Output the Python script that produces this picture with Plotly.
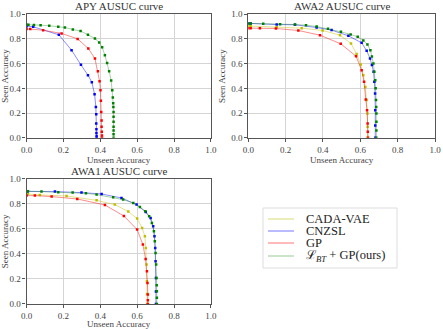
import plotly.graph_objects as go

# ---- data (unseen acc, seen acc) ----
apy_ours_x = [0.0, 0.01, 0.04, 0.076, 0.123, 0.172, 0.208, 0.251, 0.293, 0.333, 0.371, 0.394, 0.41,
              0.425, 0.437, 0.448, 0.459, 0.465, 0.468, 0.47, 0.471, 0.472, 0.472, 0.472, 0.472,
              0.472, 0.472, 0.472]
apy_ours_y = [0.915, 0.915, 0.913, 0.911, 0.906, 0.898, 0.892, 0.876, 0.863, 0.833, 0.803, 0.771,
              0.733, 0.668, 0.606, 0.539, 0.464, 0.385, 0.326, 0.28, 0.25, 0.21, 0.17, 0.13, 0.09,
              0.06, 0.03, 0.0]
apy_gp_x = [0.0, 0.02, 0.09, 0.19, 0.277, 0.335, 0.371, 0.387, 0.396, 0.401, 0.403, 0.405, 0.407,
            0.407, 0.408, 0.409, 0.409]
apy_gp_y = [0.879, 0.879, 0.87, 0.844, 0.80, 0.722, 0.641, 0.539, 0.458, 0.385, 0.30, 0.21, 0.14,
            0.09, 0.05, 0.02, 0.0]
apy_cnzsl_x = [0.0, 0.036, 0.175, 0.244, 0.295, 0.333, 0.354, 0.369, 0.376, 0.378, 0.378, 0.379,
               0.379, 0.38, 0.38]
apy_cnzsl_y = [0.903, 0.898, 0.833, 0.709, 0.59, 0.507, 0.45, 0.353, 0.25, 0.19, 0.116, 0.07,
               0.04, 0.015, 0.0]

awa2_ours_x = [0.0, 0.0125, 0.08, 0.17, 0.25, 0.309, 0.366, 0.427, 0.496, 0.548, 0.586, 0.616, 0.638,
               0.654, 0.662, 0.67, 0.675, 0.68, 0.682, 0.684, 0.685, 0.686, 0.686, 0.686, 0.686]
awa2_ours_y = [0.925, 0.925, 0.922, 0.919, 0.916, 0.911, 0.90, 0.881, 0.857, 0.836, 0.817, 0.787,
               0.755, 0.709, 0.658, 0.601, 0.534, 0.466, 0.40, 0.305, 0.25, 0.197, 0.13, 0.06, 0.0]
awa2_cnzsl_x = [0.0, 0.0125, 0.152, 0.25, 0.366, 0.446, 0.536, 0.607, 0.634, 0.652, 0.662, 0.671,
                0.675, 0.679, 0.68, 0.68, 0.68]
awa2_cnzsl_y = [0.925, 0.925, 0.916, 0.914, 0.892, 0.871, 0.825, 0.768, 0.704, 0.642, 0.588, 0.534,
                0.453, 0.358, 0.224, 0.1, 0.0]
awa2_cada_x = [0.0, 0.0125, 0.152, 0.286, 0.398, 0.491, 0.55, 0.58, 0.602, 0.616, 0.627, 0.634,
               0.638, 0.639, 0.639]
awa2_cada_y = [0.903, 0.903, 0.895, 0.887, 0.868, 0.83, 0.763, 0.677, 0.593, 0.507, 0.412, 0.305,
               0.197, 0.09, 0.0]
awa2_gp_x = [0.0, 0.0125, 0.062, 0.148, 0.268, 0.384, 0.495, 0.577, 0.607, 0.62, 0.629, 0.636,
             0.639, 0.64, 0.641]
awa2_gp_y = [0.887, 0.887, 0.887, 0.884, 0.868, 0.83, 0.76, 0.66, 0.547, 0.453, 0.31, 0.224,
             0.116, 0.05, 0.0]

awa1_ours_x = [0.0, 0.007, 0.081, 0.172, 0.25, 0.322, 0.38, 0.47, 0.524, 0.579, 0.615, 0.644, 0.665,
               0.68, 0.691, 0.696, 0.7, 0.703, 0.705, 0.706, 0.707, 0.707, 0.707]
awa1_ours_y = [0.901, 0.901, 0.899, 0.893, 0.891, 0.885, 0.875, 0.853, 0.835, 0.808, 0.776, 0.741,
               0.701, 0.648, 0.581, 0.501, 0.408, 0.315, 0.208, 0.15, 0.101, 0.05, 0.0]
awa1_cnzsl_x = [0.0, 0.007, 0.154, 0.298, 0.407, 0.515, 0.597, 0.647, 0.673, 0.687, 0.694, 0.698,
                0.7, 0.702, 0.702, 0.702]
awa1_cnzsl_y = [0.901, 0.901, 0.899, 0.891, 0.88, 0.848, 0.795, 0.736, 0.688, 0.621, 0.541, 0.448,
                0.341, 0.208, 0.1, 0.0]
awa1_cada_x = [0.0, 0.007, 0.072, 0.217, 0.38, 0.479, 0.552, 0.6, 0.627, 0.642, 0.647, 0.651,
               0.653, 0.654, 0.655]
awa1_cada_y = [0.88, 0.88, 0.872, 0.864, 0.829, 0.795, 0.739, 0.683, 0.608, 0.541, 0.448, 0.315,
               0.181, 0.08, 0.0]
awa1_gp_x = [0.0, 0.045, 0.136, 0.275, 0.425, 0.528, 0.6, 0.631, 0.646, 0.653, 0.656, 0.658,
             0.658, 0.658]
awa1_gp_y = [0.867, 0.867, 0.859, 0.84, 0.792, 0.704, 0.595, 0.475, 0.36, 0.261, 0.168, 0.075,
             0.03, 0.0]

METHODS = ["CADA-VAE", "CNZSL", "GP", "ℒ<sub><i>BT</i></sub> + GP(ours)"]
LINE_COLORS = ["rgba(191,191,0,0.45)", "rgba(0,0,255,0.45)", "rgba(255,0,0,0.45)", "rgba(0,128,0,0.35)"]
MARK_COLORS = ["#bfbf00", "#0000ff", "#ff0000", "#008000"]

panels = [
    ("APY AUSUC curve", "x", "y", [None, (apy_cnzsl_x, apy_cnzsl_y), (apy_gp_x, apy_gp_y),
                                   (apy_ours_x, apy_ours_y)]),
    ("AWA2 AUSUC curve", "x2", "y2", [(awa2_cada_x, awa2_cada_y), (awa2_cnzsl_x, awa2_cnzsl_y),
                                      (awa2_gp_x, awa2_gp_y), (awa2_ours_x, awa2_ours_y)]),
    ("AWA1 AUSUC curve", "x3", "y3", [(awa1_cada_x, awa1_cada_y), (awa1_cnzsl_x, awa1_cnzsl_y),
                                      (awa1_gp_x, awa1_gp_y), (awa1_ours_x, awa1_ours_y)]),
]

FONT = "Liberation Serif"
W, H = 443, 329
fig = go.Figure()

for p, (title, xa, ya, series) in enumerate(panels):
    for i, s in enumerate(series):
        if s is None:
            continue
        xs, ys = s
        fig.add_trace(go.Scatter(
            x=xs, y=ys, xaxis=xa, yaxis=ya, mode="lines",
            line=dict(color=LINE_COLORS[i], width=1),
            name=METHODS[i], showlegend=False, hoverinfo="skip",
        ))
        fig.add_trace(go.Scatter(
            x=xs, y=ys, xaxis=xa, yaxis=ya, mode="markers",
            marker=dict(color=MARK_COLORS[i], size=2.5, symbol="square"),
            showlegend=False, name=METHODS[i],
        ))

# axes domains (paper coords, margins are zero)
domains = {
    "": ([0.060, 0.476], [0.581, 0.957]),
    "2": ([0.5605, 0.982], [0.581, 0.957]),
    "3": ([0.060, 0.476], [0.076, 0.456]),
}

ax_common = dict(
    range=[0, 1], dtick=0.2, tickformat=".1f", showgrid=True, gridcolor="#d4d4d4", gridwidth=1,
    showline=True, linecolor="#555555", linewidth=1.2, mirror=True, zeroline=False,
    ticks="outside", ticklen=3, tickcolor="#555555", tickwidth=0.8, automargin=False,
    tickfont=dict(family=FONT, size=9, color="#444444"),
)

layout = {}
for k, (xd, yd) in domains.items():
    layout["xaxis" + k] = dict(ax_common, domain=xd, anchor="y" + k,
                               title=dict(text="Unseen Accuracy", standoff=2,
                                          font=dict(family=FONT, size=9, color="#444444")))
    layout["yaxis" + k] = dict(ax_common, domain=yd, anchor="x" + k,
                               title=dict(text="Seen Accuracy", standoff=3,
                                          font=dict(family=FONT, size=9, color="#444444")))

annotations = []
for (title, xa, ya, _), k in zip(panels, ["", "2", "3"]):
    xd, yd = domains[k]
    annotations.append(dict(
        text=title, x=(xd[0] + xd[1]) / 2, y=yd[1], xref="paper", yref="paper",
        xanchor="center", yanchor="bottom", showarrow=False,
        font=dict(family=FONT, size=11, color="#333333"),
    ))

# hand-drawn legend (matplotlib style, tight rows)
shapes = [dict(type="rect", xref="paper", yref="paper",
               x0=263 / W, x1=397 / W, y0=1 - 268 / H, y1=1 - 208 / H,
               line=dict(color="#dddddd", width=1), fillcolor="white", layer="above")]
row_y = [219, 231, 243, 256]
for i, name in enumerate(METHODS):
    yy = 1 - row_y[i] / H
    shapes.append(dict(type="line", xref="paper", yref="paper",
                       x0=268 / W, x1=294 / W, y0=yy, y1=yy,
                       line=dict(color=LINE_COLORS[i], width=1.2), layer="above"))
    annotations.append(dict(
        text=name, x=304 / W, y=yy, xref="paper", yref="paper",
        xanchor="left", yanchor="middle", showarrow=False,
        font=dict(family=FONT, size=12.5, color="#222222"),
    ))

fig.update_layout(
    **layout,
    annotations=annotations,
    shapes=shapes,
    width=W, height=H,
    margin=dict(l=0, r=0, t=0, b=0),
    paper_bgcolor="white", plot_bgcolor="white",
    showlegend=False,
)

# drop the default page margin so the figure sits at the window's corner
fig.write_html("out.html", config={"displayModeBar": False},
               post_script="document.body.style.margin='0';")
